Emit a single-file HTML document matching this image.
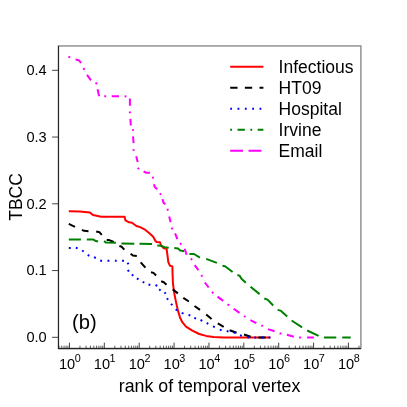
<!DOCTYPE html>
<html><head><meta charset="utf-8"><title>TBCC</title>
<style>html,body{margin:0;padding:0;background:#fff;}body{width:407px;height:407px;position:relative;overflow:hidden;font-family:"Liberation Sans",sans-serif;}</style>
</head><body>
<svg width="407" height="407" viewBox="0 0 407 407" style="position:absolute;left:0;top:0">
<rect x="58.4" y="45.95" width="302.5" height="302.40000000000003" fill="none" stroke="#8a8a8a" stroke-width="1.4"/>
<polyline points="68.8,211.2 79.7,211.4 90.0,212.6 93.0,215.0 96.6,215.7 101.1,216.8 124.6,216.8 125.4,220.3 129.1,222.3 132.0,222.8 136.4,226.0 140.1,227.1 144.5,229.3 149.7,233.5 153.2,236.7 155.5,241.0 156.6,242.0 160.0,242.2 161.1,245.5 163.8,248.3 166.6,248.8 167.3,254.0 168.3,262.1 169.9,265.7 172.4,266.4 172.6,275.0 173.0,283.8 174.2,292.7 175.6,300.1 177.9,310.4 180.1,317.8 182.3,322.2 186.0,326.6 191.9,330.3 199.2,334.0 206.2,335.9 213.5,337.0 223.4,337.5 270.4,337.5" fill="none" stroke="#ff0000" stroke-width="2.0" stroke-linejoin="round"/>
<path d="M68.8,223.8 L75.0,226.8M81.9,229.8 L84.1,230.8 L88.5,231.2M96.2,231.5 L99.6,232.3 L101.8,234.9M106.7,239.9 L109.2,240.1 L113.8,242.0M119.4,246.0 L121.8,246.8 L124.3,249.7M130.6,253.7 L132.9,255.6 L136.8,256.1M140.7,262.3 L145.4,267.7M151.0,272.2 L153.5,272.9 L156.1,275.5M161.2,281.3 L163.8,282.2 L166.5,284.7M172.7,289.4 L177.9,293.4M183.3,297.9 L188.9,301.5M194.5,306.0 L200.0,309.9M206.2,314.5 L211.6,319.0M217.8,323.4 L223.7,326.9M229.6,330.3 L236.6,332.8M244.0,334.5 L250.7,336.8M258.3,337.5 L265.6,337.5" fill="none" stroke="#000000" stroke-width="2.0" stroke-linejoin="round"/>
<path d="M68.8,248.0 L70.7,248.0M75.8,247.8 L77.6,248.2M82.1,250.5 L83.7,251.5M87.7,254.9 L89.3,255.9M94.0,257.2 L95.8,258.0M100.2,260.5 L102.0,260.9M107.5,260.7 L109.4,260.7M114.9,260.7 L116.7,260.7M122.1,260.6 L123.9,261.0M127.5,262.7 L128.5,264.3M128.0,269.8 L128.8,271.6M131.9,274.5 L133.3,275.7M136.9,278.4 L138.5,279.4M142.7,281.8 L144.3,282.6M148.5,284.6 L150.3,285.0M155.5,285.0 L157.3,285.8M159.2,289.2 L160.6,290.4M164.5,292.3 L165.7,293.7M167.0,298.2 L168.0,299.8M171.1,303.8 L172.3,305.2M175.7,309.3 L177.1,310.5M181.7,312.9 L183.5,313.7M188.5,314.9 L190.3,315.5M194.3,317.8 L196.1,318.6M200.5,320.0 L202.3,320.8M206.7,323.0 L208.3,323.8M213.0,326.4 L214.8,327.2M219.8,329.6 L221.6,330.2M226.7,331.1 L228.5,331.5M233.6,332.4 L235.4,333.0M240.0,335.3 L241.8,335.9M247.4,337.2 L249.2,337.4M254.4,337.5 L256.2,337.5M261.9,337.5 L263.8,337.5M268.6,337.5 L270.4,337.5" fill="none" stroke="#0000ff" stroke-width="2.0" stroke-linejoin="round"/>
<path d="M68.8,239.4 L80.9,239.4M86.8,239.4 L93.0,239.4 L95.9,241.1 L98.1,241.6M104.0,241.1 L106.2,242.6 L115.9,242.8M121.5,243.6 L134.3,243.8M139.5,243.8 L152.0,244.1M157.3,245.4 L161.3,245.8 L164.6,247.2 L168.7,247.8M174.3,248.1 L178.0,248.4 L180.2,250.6 L184.3,251.2M189.4,254.0 L194.0,254.0 L199.9,257.7M206.2,258.9 L216.9,262.9M222.5,265.7 L225.0,266.2 L232.6,272.0M237.4,275.0 L239.5,275.6 L241.7,279.0 L245.8,282.7M250.5,286.7 L259.6,294.1M264.3,298.5 L267.5,299.6 L273.2,305.5M277.6,309.9 L280.5,310.6 L287.2,316.5M291.6,320.5 L302.1,327.3M307.2,330.5 L318.6,335.8M324.0,337.5 L336.3,337.5M342.2,337.5 L350.7,337.5" fill="none" stroke="#008000" stroke-width="2.0" stroke-linejoin="round"/>
<path d="M68.4,56.8 L70.2,57.4M75.5,59.4 L79.2,60.5 L81.1,63.0M83.5,68.0 L84.3,69.8M87.0,74.9 L91.0,80.4M95.7,82.5 L96.9,84.1M97.6,89.2 L99.1,96.3M104.3,96.3 L106.2,96.3M111.7,96.3 L119.0,96.3M124.6,96.2 L126.4,96.5M129.9,98.5 L129.9,105.7M129.9,111.4 L129.9,113.2M130.4,118.9 L130.8,125.5M132.8,129.1 L133.2,130.9M133.0,136.3 L133.6,143.2M133.4,149.1 L133.8,150.9M136.2,156.2 L137.7,162.1M137.9,167.7 L138.9,169.3M143.6,171.4 L145.8,172.7 L149.9,172.7M152.6,176.7 L153.2,178.5M153.9,184.2 L154.9,187.2 L157.3,189.1M160.1,193.3 L160.9,194.9M162.5,199.1 L163.7,203.1 L165.5,204.1M167.4,208.8 L168.0,210.6M169.2,216.4 L170.6,222.3M171.7,227.6 L172.5,229.4M175.1,233.3 L177.3,239.2M180.2,243.0 L181.4,244.6M184.7,248.8 L186.6,254.8M190.9,258.5 L192.1,259.9M194.7,265.1 L198.4,270.2M201.4,275.0 L202.2,276.6M204.8,282.5 L208.7,287.5M212.0,291.9 L213.4,293.3M217.5,296.6 L223.2,300.9M227.6,304.2 L229.2,305.4M233.6,308.8 L239.5,312.9M244.0,316.0 L245.6,317.0M250.4,320.1 L256.3,323.1M261.3,325.4 L262.9,326.2M268.0,329.1 L274.6,331.3M279.6,333.2 L281.4,333.8M286.9,334.7 L293.8,336.7M299.2,337.4 L301.0,337.6M307.1,337.5 L313.9,337.5" fill="none" stroke="#ff00ff" stroke-width="2.0" stroke-linejoin="round"/>
<path d="M58.55,45.95 V348.65" fill="none" stroke="#222" stroke-width="1.0"/>
<path d="M58.05,348.65 H360.9" fill="none" stroke="#222" stroke-width="1.15"/>
<line x1="52.1" x2="58.4" y1="337.30" y2="337.30" stroke="#222" stroke-width="0.85"/>
<line x1="52.1" x2="58.4" y1="270.55" y2="270.55" stroke="#222" stroke-width="0.85"/>
<line x1="52.1" x2="58.4" y1="203.80" y2="203.80" stroke="#222" stroke-width="0.85"/>
<line x1="52.1" x2="58.4" y1="137.05" y2="137.05" stroke="#222" stroke-width="0.85"/>
<line x1="52.1" x2="58.4" y1="70.30" y2="70.30" stroke="#222" stroke-width="0.85"/>
<line x1="58.95" x2="58.95" y1="345.65" y2="348.65" stroke="#222" stroke-width="0.7"/>
<line x1="61.71" x2="61.71" y1="345.65" y2="348.65" stroke="#222" stroke-width="0.7"/>
<line x1="64.05" x2="64.05" y1="345.65" y2="348.65" stroke="#222" stroke-width="0.7"/>
<line x1="66.07" x2="66.07" y1="345.65" y2="348.65" stroke="#222" stroke-width="0.7"/>
<line x1="67.85" x2="67.85" y1="345.65" y2="348.65" stroke="#222" stroke-width="0.7"/>
<line x1="69.45" x2="69.45" y1="342.65" y2="348.65" stroke="#222" stroke-width="0.85"/>
<line x1="79.95" x2="79.95" y1="345.65" y2="348.65" stroke="#222" stroke-width="0.7"/>
<line x1="86.09" x2="86.09" y1="345.65" y2="348.65" stroke="#222" stroke-width="0.7"/>
<line x1="90.45" x2="90.45" y1="345.65" y2="348.65" stroke="#222" stroke-width="0.7"/>
<line x1="93.83" x2="93.83" y1="345.65" y2="348.65" stroke="#222" stroke-width="0.7"/>
<line x1="96.59" x2="96.59" y1="345.65" y2="348.65" stroke="#222" stroke-width="0.7"/>
<line x1="98.92" x2="98.92" y1="345.65" y2="348.65" stroke="#222" stroke-width="0.7"/>
<line x1="100.95" x2="100.95" y1="345.65" y2="348.65" stroke="#222" stroke-width="0.7"/>
<line x1="102.73" x2="102.73" y1="345.65" y2="348.65" stroke="#222" stroke-width="0.7"/>
<line x1="104.33" x2="104.33" y1="342.65" y2="348.65" stroke="#222" stroke-width="0.85"/>
<line x1="114.82" x2="114.82" y1="345.65" y2="348.65" stroke="#222" stroke-width="0.7"/>
<line x1="120.96" x2="120.96" y1="345.65" y2="348.65" stroke="#222" stroke-width="0.7"/>
<line x1="125.32" x2="125.32" y1="345.65" y2="348.65" stroke="#222" stroke-width="0.7"/>
<line x1="128.70" x2="128.70" y1="345.65" y2="348.65" stroke="#222" stroke-width="0.7"/>
<line x1="131.46" x2="131.46" y1="345.65" y2="348.65" stroke="#222" stroke-width="0.7"/>
<line x1="133.80" x2="133.80" y1="345.65" y2="348.65" stroke="#222" stroke-width="0.7"/>
<line x1="135.82" x2="135.82" y1="345.65" y2="348.65" stroke="#222" stroke-width="0.7"/>
<line x1="137.60" x2="137.60" y1="345.65" y2="348.65" stroke="#222" stroke-width="0.7"/>
<line x1="139.20" x2="139.20" y1="342.65" y2="348.65" stroke="#222" stroke-width="0.85"/>
<line x1="149.70" x2="149.70" y1="345.65" y2="348.65" stroke="#222" stroke-width="0.7"/>
<line x1="155.84" x2="155.84" y1="345.65" y2="348.65" stroke="#222" stroke-width="0.7"/>
<line x1="160.20" x2="160.20" y1="345.65" y2="348.65" stroke="#222" stroke-width="0.7"/>
<line x1="163.58" x2="163.58" y1="345.65" y2="348.65" stroke="#222" stroke-width="0.7"/>
<line x1="166.34" x2="166.34" y1="345.65" y2="348.65" stroke="#222" stroke-width="0.7"/>
<line x1="168.67" x2="168.67" y1="345.65" y2="348.65" stroke="#222" stroke-width="0.7"/>
<line x1="170.70" x2="170.70" y1="345.65" y2="348.65" stroke="#222" stroke-width="0.7"/>
<line x1="172.48" x2="172.48" y1="345.65" y2="348.65" stroke="#222" stroke-width="0.7"/>
<line x1="174.07" x2="174.07" y1="342.65" y2="348.65" stroke="#222" stroke-width="0.85"/>
<line x1="184.57" x2="184.57" y1="345.65" y2="348.65" stroke="#222" stroke-width="0.7"/>
<line x1="190.71" x2="190.71" y1="345.65" y2="348.65" stroke="#222" stroke-width="0.7"/>
<line x1="195.07" x2="195.07" y1="345.65" y2="348.65" stroke="#222" stroke-width="0.7"/>
<line x1="198.45" x2="198.45" y1="345.65" y2="348.65" stroke="#222" stroke-width="0.7"/>
<line x1="201.21" x2="201.21" y1="345.65" y2="348.65" stroke="#222" stroke-width="0.7"/>
<line x1="203.55" x2="203.55" y1="345.65" y2="348.65" stroke="#222" stroke-width="0.7"/>
<line x1="205.57" x2="205.57" y1="345.65" y2="348.65" stroke="#222" stroke-width="0.7"/>
<line x1="207.35" x2="207.35" y1="345.65" y2="348.65" stroke="#222" stroke-width="0.7"/>
<line x1="208.95" x2="208.95" y1="342.65" y2="348.65" stroke="#222" stroke-width="0.85"/>
<line x1="219.45" x2="219.45" y1="345.65" y2="348.65" stroke="#222" stroke-width="0.7"/>
<line x1="225.59" x2="225.59" y1="345.65" y2="348.65" stroke="#222" stroke-width="0.7"/>
<line x1="229.95" x2="229.95" y1="345.65" y2="348.65" stroke="#222" stroke-width="0.7"/>
<line x1="233.33" x2="233.33" y1="345.65" y2="348.65" stroke="#222" stroke-width="0.7"/>
<line x1="236.09" x2="236.09" y1="345.65" y2="348.65" stroke="#222" stroke-width="0.7"/>
<line x1="238.42" x2="238.42" y1="345.65" y2="348.65" stroke="#222" stroke-width="0.7"/>
<line x1="240.45" x2="240.45" y1="345.65" y2="348.65" stroke="#222" stroke-width="0.7"/>
<line x1="242.23" x2="242.23" y1="345.65" y2="348.65" stroke="#222" stroke-width="0.7"/>
<line x1="243.82" x2="243.82" y1="342.65" y2="348.65" stroke="#222" stroke-width="0.85"/>
<line x1="254.32" x2="254.32" y1="345.65" y2="348.65" stroke="#222" stroke-width="0.7"/>
<line x1="260.46" x2="260.46" y1="345.65" y2="348.65" stroke="#222" stroke-width="0.7"/>
<line x1="264.82" x2="264.82" y1="345.65" y2="348.65" stroke="#222" stroke-width="0.7"/>
<line x1="268.20" x2="268.20" y1="345.65" y2="348.65" stroke="#222" stroke-width="0.7"/>
<line x1="270.96" x2="270.96" y1="345.65" y2="348.65" stroke="#222" stroke-width="0.7"/>
<line x1="273.30" x2="273.30" y1="345.65" y2="348.65" stroke="#222" stroke-width="0.7"/>
<line x1="275.32" x2="275.32" y1="345.65" y2="348.65" stroke="#222" stroke-width="0.7"/>
<line x1="277.10" x2="277.10" y1="345.65" y2="348.65" stroke="#222" stroke-width="0.7"/>
<line x1="278.70" x2="278.70" y1="342.65" y2="348.65" stroke="#222" stroke-width="0.85"/>
<line x1="289.20" x2="289.20" y1="345.65" y2="348.65" stroke="#222" stroke-width="0.7"/>
<line x1="295.34" x2="295.34" y1="345.65" y2="348.65" stroke="#222" stroke-width="0.7"/>
<line x1="299.70" x2="299.70" y1="345.65" y2="348.65" stroke="#222" stroke-width="0.7"/>
<line x1="303.08" x2="303.08" y1="345.65" y2="348.65" stroke="#222" stroke-width="0.7"/>
<line x1="305.84" x2="305.84" y1="345.65" y2="348.65" stroke="#222" stroke-width="0.7"/>
<line x1="308.17" x2="308.17" y1="345.65" y2="348.65" stroke="#222" stroke-width="0.7"/>
<line x1="310.20" x2="310.20" y1="345.65" y2="348.65" stroke="#222" stroke-width="0.7"/>
<line x1="311.98" x2="311.98" y1="345.65" y2="348.65" stroke="#222" stroke-width="0.7"/>
<line x1="313.57" x2="313.57" y1="342.65" y2="348.65" stroke="#222" stroke-width="0.85"/>
<line x1="324.07" x2="324.07" y1="345.65" y2="348.65" stroke="#222" stroke-width="0.7"/>
<line x1="330.21" x2="330.21" y1="345.65" y2="348.65" stroke="#222" stroke-width="0.7"/>
<line x1="334.57" x2="334.57" y1="345.65" y2="348.65" stroke="#222" stroke-width="0.7"/>
<line x1="337.95" x2="337.95" y1="345.65" y2="348.65" stroke="#222" stroke-width="0.7"/>
<line x1="340.71" x2="340.71" y1="345.65" y2="348.65" stroke="#222" stroke-width="0.7"/>
<line x1="343.05" x2="343.05" y1="345.65" y2="348.65" stroke="#222" stroke-width="0.7"/>
<line x1="345.07" x2="345.07" y1="345.65" y2="348.65" stroke="#222" stroke-width="0.7"/>
<line x1="346.85" x2="346.85" y1="345.65" y2="348.65" stroke="#222" stroke-width="0.7"/>
<line x1="348.45" x2="348.45" y1="342.65" y2="348.65" stroke="#222" stroke-width="0.85"/>
<line x1="358.95" x2="358.95" y1="345.65" y2="348.65" stroke="#222" stroke-width="0.7"/>
<line x1="230.2" x2="263.4" y1="66.7" y2="66.7" stroke="#ff0000" stroke-width="2.0"/>
<line x1="230.2" x2="263.4" y1="87.65" y2="87.65" stroke="#000000" stroke-width="2.0" stroke-dasharray="7.33 7.33"/>
<line x1="230.2" x2="263.4" y1="108.65" y2="108.65" stroke="#0000ff" stroke-width="2.0" stroke-dasharray="1.83 5.50"/>
<line x1="230.2" x2="263.4" y1="129.8" y2="129.8" stroke="#008000" stroke-width="2.0" stroke-dasharray="1.83 5.50 7.33 5.50"/>
<line x1="230.2" x2="263.4" y1="150.7" y2="150.7" stroke="#ff00ff" stroke-width="2.0" stroke-dasharray="12.83 5.50"/>
</svg>
<svg width="407" height="407" viewBox="0 0 407 407" style="position:absolute;left:0;top:0;filter:grayscale(1)">
<g font-family="Liberation Sans, sans-serif" fill="#000"><text x="278.6" y="73.30" font-size="17.5">Infectious</text>
<text x="278.6" y="94.25" font-size="17.5">HT09</text>
<text x="278.6" y="115.25" font-size="17.5">Hospital</text>
<text x="278.6" y="136.40" font-size="17.5">Irvine</text>
<text x="278.6" y="157.30" font-size="17.5">Email</text>
<text x="46.7" y="342.15" font-size="14.6" text-anchor="end">0.0</text>
<text x="46.7" y="275.40" font-size="14.6" text-anchor="end">0.1</text>
<text x="46.7" y="208.65" font-size="14.6" text-anchor="end">0.2</text>
<text x="46.7" y="141.90" font-size="14.6" text-anchor="end">0.3</text>
<text x="46.7" y="75.15" font-size="14.6" text-anchor="end">0.4</text>
<text x="58.95" y="369.4" font-size="14.6">10<tspan dx="-0.5" dy="-7.1" font-size="10.8">0</tspan></text>
<text x="93.83" y="369.4" font-size="14.6">10<tspan dx="-0.5" dy="-7.1" font-size="10.8">1</tspan></text>
<text x="128.70" y="369.4" font-size="14.6">10<tspan dx="-0.5" dy="-7.1" font-size="10.8">2</tspan></text>
<text x="163.57" y="369.4" font-size="14.6">10<tspan dx="-0.5" dy="-7.1" font-size="10.8">3</tspan></text>
<text x="198.45" y="369.4" font-size="14.6">10<tspan dx="-0.5" dy="-7.1" font-size="10.8">4</tspan></text>
<text x="233.32" y="369.4" font-size="14.6">10<tspan dx="-0.5" dy="-7.1" font-size="10.8">5</tspan></text>
<text x="268.20" y="369.4" font-size="14.6">10<tspan dx="-0.5" dy="-7.1" font-size="10.8">6</tspan></text>
<text x="303.07" y="369.4" font-size="14.6">10<tspan dx="-0.5" dy="-7.1" font-size="10.8">7</tspan></text>
<text x="337.95" y="369.4" font-size="14.6">10<tspan dx="-0.5" dy="-7.1" font-size="10.8">8</tspan></text>
<text x="209.6" y="391.9" font-size="17.75" text-anchor="middle">rank of temporal vertex</text>
<text transform="translate(22,197) rotate(-90)" font-size="17.5" text-anchor="middle">TBCC</text>
<text x="72.1" y="329.1" font-size="20.2">(b)</text></g>
</svg>
</body></html>
